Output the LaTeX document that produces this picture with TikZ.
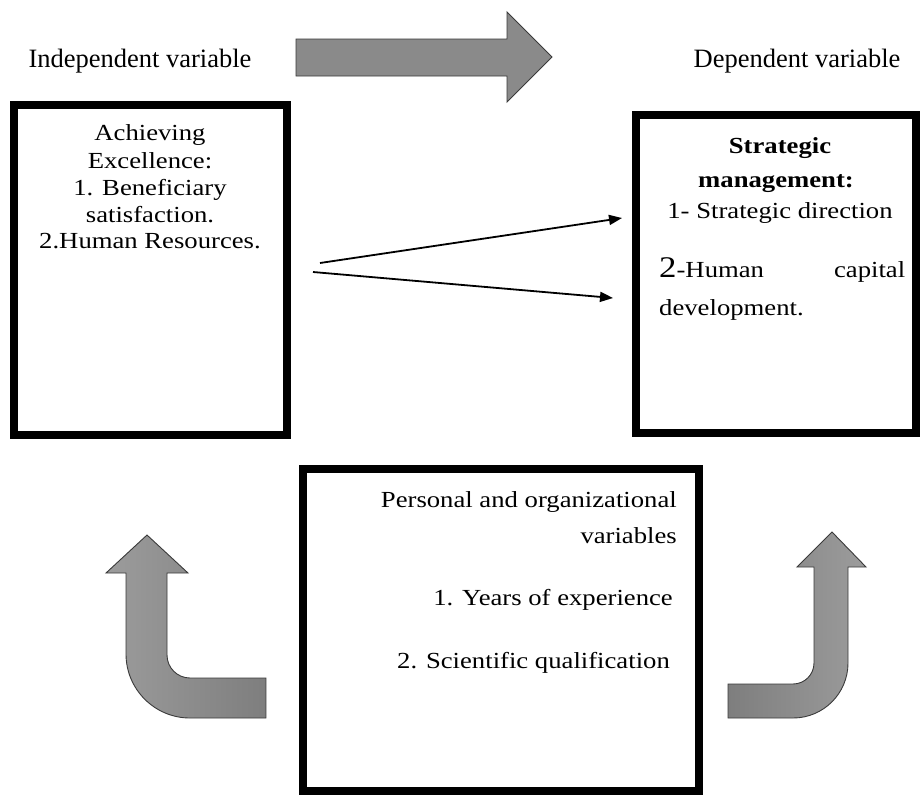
\documentclass[tikz,border=0pt]{standalone}
\usepackage{fontspec}
\setmainfont{Liberation Serif}
\newfontfamily\boxfont{Liberation Serif}[FakeStretch=1.16]
\usetikzlibrary{arrows.meta}
\definecolor{arrowgray}{HTML}{8A8A8A}
\definecolor{arrowlight}{HTML}{9C9C9C}
\definecolor{arrowdark}{HTML}{7E7E7E}
\definecolor{edgegray}{HTML}{3A3A3A}
\begin{document}
\begin{tikzpicture}[x=1pt,y=-1pt,
  bigbox/.style={draw=black, line width=8pt, inner sep=0pt, fill=white},
  title/.style={font=\fontsize{26.5}{30}\selectfont, inner sep=0pt},
  boxtxt/.style={font=\boxfont\fontsize{23}{27}\selectfont, inner sep=0pt},
  blockarrow/.style={draw=edgegray, line width=0.9pt, line join=miter},
  connector/.style={line width=1.8pt, -{Triangle[length=13pt,width=10pt]}}
]
\useasboundingbox (0,0) rectangle (920,796);

% titles
\node[title, anchor=base] (indep) at (140,67) {Independent variable};
\node[title, anchor=base] (dep) at (797,67) {Dependent variable};

% top block arrow
\path[blockarrow, fill=arrowgray] (296,39) -- (507,39) -- (507,12) -- (552,57)
  -- (507,102) -- (507,76) -- (296,76) -- cycle;

% boxes
\node[bigbox, minimum width=273pt, minimum height=330pt] (left) at (150.5,270) {};
\node[bigbox, minimum width=280pt, minimum height=318pt] (right) at (776,274) {};
\node[bigbox, minimum width=396.5pt, minimum height=322pt] (bottom) at (500.75,630) {};

% left box text
\node[boxtxt, anchor=base] (l1) at (150,140) {Achieving};
\node[boxtxt, anchor=base] (l2) at (150,168) {Excellence:};
\node[boxtxt, anchor=base] (l3) at (150,195) {1. Beneficiary};
\node[boxtxt, anchor=base] (l4) at (150,222) {satisfaction.};
\node[boxtxt, anchor=base] (l5) at (150,248) {2.Human Resources.};

% right box text
\node[boxtxt, anchor=base, font=\boxfont\bfseries\fontsize{23}{27}\selectfont] (r1) at (780,153) {Strategic};
\node[boxtxt, anchor=base, font=\boxfont\bfseries\fontsize{23}{27}\selectfont] (r2) at (776,187) {management:};
\node[boxtxt, anchor=base] (r3) at (780,218) {1- Strategic direction};
\node[boxtxt, anchor=base west] (r4) at (659,277) {\hbox to 246pt{{\fontsize{30}{30}\selectfont 2}-Human\hfill capital}};
\node[boxtxt, anchor=base west] (r5) at (659,315) {development.};

% bottom box text
\node[boxtxt, anchor=base east] (b1) at (677,507) {Personal and organizational};
\node[boxtxt, anchor=base east] (b2) at (677,543) {variables};
\node[boxtxt, anchor=base east] (b3) at (673,605) {1. Years of experience};
\node[boxtxt, anchor=base east] (b4) at (670,668) {2. Scientific qualification};

% connectors
\coordinate (s1) at (320,263);
\coordinate (e1) at (622,218);
\coordinate (s2) at (313,272);
\coordinate (e2) at (613,298);
\draw[connector] (s1) -- (e1);
\draw[connector] (s2) -- (e2);

% left bent arrow
\path[blockarrow, left color=arrowlight, right color=arrowdark]
  (147,535) -- (188,573) -- (167,573) -- (167,655)
  .. controls (167,667.7) and (177.3,678) .. (190,678)
  -- (266,678) -- (266,718) -- (190,718)
  .. controls (154.7,718) and (126,689.3) .. (126,654)
  -- (126,573) -- (106,573) -- cycle;

% right bent arrow
\path[blockarrow, left color=arrowdark, right color=arrowlight]
  (832,532) -- (866,567) -- (848,567) -- (848,663)
  .. controls (848,693.4) and (823.4,718) .. (793,718)
  -- (728,718) -- (728,684) -- (793,684)
  .. controls (804.6,684) and (814,674.6) .. (814,663)
  -- (814,567) -- (797,567) -- cycle;
\end{tikzpicture}
\end{document}
